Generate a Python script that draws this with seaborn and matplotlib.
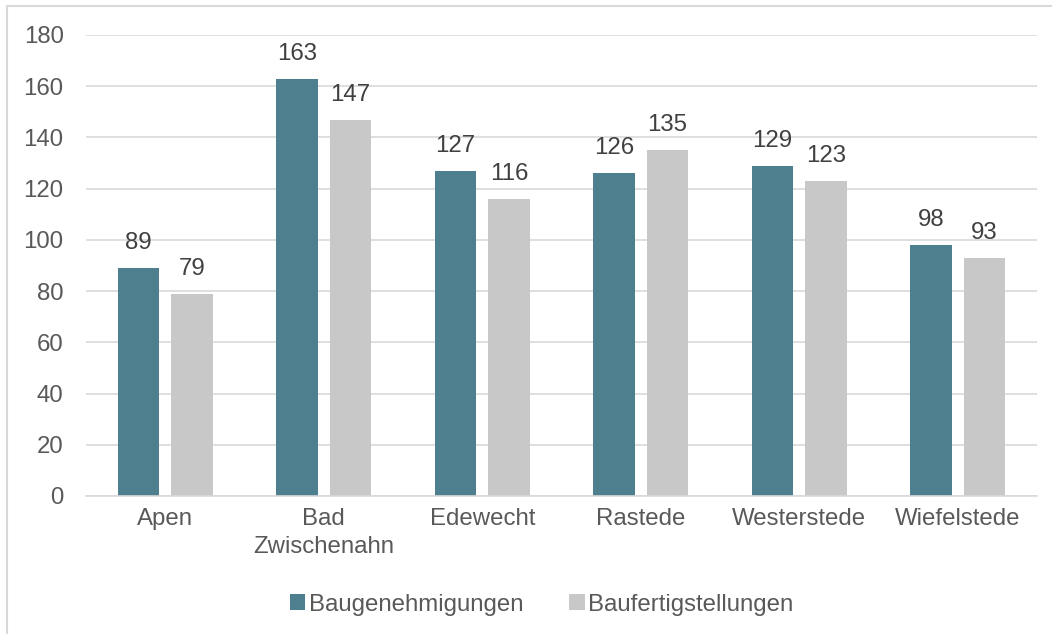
import pandas as pd
import matplotlib.pyplot as plt
import seaborn as sns
from matplotlib.lines import Line2D
from matplotlib.patches import Patch

# Data
gemeinden = ['Apen', 'Bad\nZwischenahn', 'Edewecht', 'Rastede', 'Westerstede', 'Wiefelstede']
baugenehmigungen = [89, 163, 127, 126, 129, 98]
baufertigstellungen = [79, 147, 116, 135, 123, 93]
serien = ['Baugenehmigungen', 'Baufertigstellungen']
farben = ['#4e7f8e', '#c8c8c8']

df = pd.DataFrame({
    'Gemeinde': gemeinden * 2,
    'Wert': baugenehmigungen + baufertigstellungen,
    'Serie': [serien[0]] * len(gemeinden) + [serien[1]] * len(gemeinden),
})

sns.set_style('white')
plt.rcParams['font.family'] = ['Liberation Sans', 'DejaVu Sans']
text_color = '#595959'
fs = 17.3

fig = plt.figure(figsize=(10.52, 6.34), dpi=100)
ax = fig.add_axes([0.0817, 0.2177, 0.904, 0.7271])

sns.barplot(data=df, x='Gemeinde', y='Wert', hue='Serie', palette=farben,
            width=0.675, gap=0.23, ax=ax, legend=False, saturation=1,
            linewidth=0, edgecolor='none')

for cont in ax.containers:
    ax.bar_label(cont, padding=10, fontsize=fs, color='#404040')

ax.set_ylim(0, 180)
ax.set_yticks(range(0, 181, 20))
ax.yaxis.grid(True, color='#d9d9d9', linewidth=1.2)
ax.set_axisbelow(True)
for s in ['top', 'right', 'left']:
    ax.spines[s].set_visible(False)
ax.spines['bottom'].set_color('#d9d9d9')
ax.spines['bottom'].set_linewidth(1.2)
ax.set_xlabel('')
ax.set_ylabel('')
ax.tick_params(axis='y', length=0, pad=16, labelsize=fs, labelcolor=text_color)
ax.tick_params(axis='x', length=0, pad=9, labelsize=fs, labelcolor=text_color)
for lbl in ax.get_xticklabels():
    lbl.set_linespacing(1.35)
ax.set_xlim(-0.5, len(gemeinden) - 0.5)

handles = [Patch(facecolor=c, edgecolor='none') for c in farben]
fig.legend(handles, serien, loc='center', bbox_to_anchor=(0.515, 0.046), ncol=2,
           frameon=False, fontsize=fs, labelcolor=text_color,
           handlelength=0.65, handleheight=0.65, handletextpad=0.15, columnspacing=1.9)

# light frame on left and top
fig.add_artist(Line2D([7 / 1052, 7 / 1052], [0, 1 - 6 / 634], transform=fig.transFigure,
                      color='#d9d9d9', linewidth=1.5))
fig.add_artist(Line2D([7 / 1052, 1], [1 - 6 / 634, 1 - 6 / 634], transform=fig.transFigure,
                      color='#d9d9d9', linewidth=1.5))

fig.savefig('out.png', dpi=100, facecolor='white')
